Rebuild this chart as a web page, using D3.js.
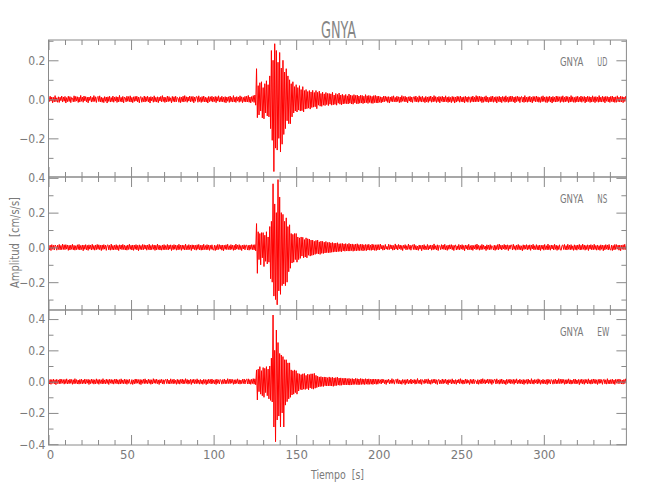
<!DOCTYPE html>
<html><head><meta charset="utf-8">
<script src="https://cdn.jsdelivr.net/npm/d3@7"></script>
<style>body{margin:0;background:#fff}svg{display:block}text{white-space:pre}</style>
</head><body><svg id="c" width="650" height="500"></svg>
<script>
const chartTitle = "GNYA";
const station = "GNYA";
const components = ["UD", "NS", "EW"];
const xTitle = "Tiempo  [s]";
const yTitle = "Amplitud  [cm/s/s]";
const xDomain = [0, 350];
const xTickValues = [0, 50, 100, 150, 200, 250, 300];
const yDomains = [[-0.398, 0.304], [-0.36, 0.405], [-0.405, 0.458]];
const yTickValues = [-0.4, -0.2, 0.0, 0.2, 0.4];
const sampleStart = 0, sampleStep = 0.5; // seconds

// UD component, t = 0..350 s every 0.5 s
const ud = [
.014,-.011,.016,-.009,.012,-.018,.010,-.013,.019,-.012,.008,-.015,.013,-.016,.011,-.007,.017,-.014,.012,-.010,
.015,-.019,.009,-.012,.016,-.011,.014,-.017,.010,.006,-.013,.018,-.012,.015,-.009,.013,-.016,.011,-.014,.020,
-.010,.012,-.015,.017,-.008,.014,-.013,.011,-.018,.012,-.006,.016,-.014,.010,-.012,.019,-.011,.013,-.016,.009,
.015,-.012,.018,-.013,.011,-.015,.008,-.017,.014,-.010,.012,-.019,.013,-.011,.016,-.014,.009,-.012,.017,-.015,
.011,-.009,.014,-.016,.012,-.013,.020,-.011,.010,-.014,.015,-.018,.012,.007,-.013,.016,-.010,.014,-.012,.018,
-.014,.010,-.017,.013,-.011,.015,-.009,.016,-.013,.012,-.018,.011,.014,-.015,.009,-.012,.017,-.014,.013,-.010,
.016,-.013,.011,-.019,.014,-.008,.012,-.015,.018,-.012,.010,-.014,.013,-.017,.011,-.009,.015,-.013,.019,-.011,
.012,-.016,.010,-.013,.017,-.012,.014,-.010,.008,-.018,.015,-.011,.013,-.014,.016,-.012,.010,.005,-.015,.013,
-.017,.011,-.012,.016,-.014,.019,-.010,.013,-.015,.012,-.009,.017,-.013,.014,-.011,.015,-.018,.012,-.010,.014,
.013,-.015,.018,-.011,.010,-.016,.014,-.012,.017,-.013,.011,-.014,.009,-.019,.015,-.012,.013,-.010,.016,-.014,
.012,-.011,.015,-.017,.013,-.009,.018,-.014,.010,-.012,.016,-.013,.011,-.015,.014,-.018,.012,-.010,.013,-.016,
.017,-.012,.010,-.014,.019,-.013,.011,-.016,.014,-.009,.012,-.015,.018,-.011,.013,-.017,.010,-.012,.015,-.014,
.016,-.013,.020,-.015,.012,-.018,.014,-.011,.019,-.016,
.022,
-.030,.157,-.094,.070,-.080,.085,-.060,.090,-.095,.060,-.100,.080,-.070,.095,-.085,.075,-.090,.120,-.150,.250,
-.210,.200,-.370,.285,-.250,.250,-.260,.190,-.200,.240,-.270,.160,-.230,.200,-.180,.140,-.150,.157,-.110,.120,
-.125,.100,-.125,.080,-.090,.090,-.070,.065,-.060,
.075,-.065,.060,-.055,.070,-.060,.050,-.058,.065,-.065,.045,-.050,.050,-.048,.040,-.045,.045,-.050,.038,-.042,
.046,-.040,.035,-.038,.045,-.048,.036,-.030,.042,-.035,.030,-.036,.037,-.030,.028,-.032,.035,-.027,.030,-.032,
.030,-.025,.028,-.030,.036,-.028,.022,-.026,.030,-.030,.025,-.020,.032,-.025,.022,-.028,.026,-.024,.020,-.022,
.025,-.022,.018,-.024,.027,-.020,.022,-.024,.019,-.025,.024,-.018,.020,-.022,.022,-.023,.017,-.020,.021,-.019,
.020,-.022,.016,-.019,.024,-.017,.018,-.021,.020,-.016,.018,-.020,.015,-.021,.019,-.017,.020,-.018,.016,-.019,
.017,
-.015,.013,-.018,.011,-.014,.017,-.012,.016,-.010,.013,-.016,.014,-.019,.012,-.011,.015,-.013,.018,-.012,.010,
-.014,.016,-.011,.013,-.017,.012,-.015,.019,-.010,.014,-.012,.016,-.013,.011,-.018,.013,-.009,.015,-.014,.012,
-.016,.011,.014,-.012,.017,-.013,.010,-.015,.018,-.011,.013,-.014,.016,-.012,.009,-.017,.015,-.013,.012,-.016,
.014,-.010,.017,-.015,.012,-.013,.019,-.011,.014,-.016,.011,-.012,.015,-.018,.013,-.010,.016,-.014,.012,-.013,
.018,-.012,.011,-.016,.014,-.013,.010,-.017,.015,-.011,.013,-.019,.012,-.014,.016,-.010,.014,-.015,.017,-.012,
.011,-.014,.013,-.018,.016,-.011,.012,-.015,.014,.008,-.016,.013,-.012,.017,-.014,.011,-.013,.019,-.012,.015,
-.013,.016,-.010,.014,-.017,.012,-.015,.013,-.011,.018,-.014,.012,-.016,.010,-.013,.015,-.012,.017,-.015,.011,
-.012,.014,-.019,.013,-.011,.016,-.014,.012,-.017,.015,-.010,.013,-.015,.018,-.012,.011,-.016,.014,-.013,.017,
-.011,.015,-.013,.012,-.018,.014,-.012,.016,-.010,.013,-.017,.011,.015,-.014,.012,-.016,.019,-.013,.011,-.015,
.013,-.012,.016,-.014,.011,-.018,.015,-.010,.014,-.013,.017,-.012,.013,-.015,.010,-.016,.014,-.012,.018,-.011,
.012,-.015,.014,-.017,.013,-.011,.016,-.014,.012,-.019,.015,-.012,.011,-.014,.017,-.013,.015,-.010,.013,-.016,
.014,-.012,.018,-.015,.011,-.013,.016,-.011,.014,-.017,.012,-.014,.019,-.012,.013,-.015,.010,-.016,.014,-.013,
.016,-.014,.011,-.012,.017,-.015,.013,-.010,.015,-.018,.012,-.013,.016,-.011,.014,-.016,.012,-.014,.018,-.012,
.013,-.017,.014,-.011,.012,-.015,.019,-.013,.011,-.014,.016,-.012,.013,-.018,.015,-.010,.014,-.013,.012,-.016,
.015,-.011,.017,-.014,.012,-.016,.013,-.015,.018,-.012,.011,-.014,.016,-.013,.014,-.017,.012,-.011,.015,-.013
];

// NS component, t = 0..350 s every 0.5 s
const ns = [
.011,-.014,.013,-.018,.016,-.011,.012,-.015,.014,.008,-.016,.013,-.012,.017,-.014,.011,-.013,.019,-.012,.015,
-.013,.016,-.010,.014,-.017,.012,-.015,.013,-.011,.018,-.014,.012,-.016,.010,-.013,.015,-.012,.017,-.015,.011,
-.012,.014,-.019,.013,-.011,.016,-.014,.012,-.017,.015,-.010,.013,-.015,.018,-.012,.011,-.016,.014,-.013,.017,
-.011,.015,-.013,.012,-.018,.014,-.012,.016,-.010,.013,-.017,.011,.015,-.014,.012,-.016,.019,-.013,.011,-.015,
.013,-.012,.016,-.014,.011,-.018,.015,-.010,.014,-.013,.017,-.012,.013,-.015,.010,-.016,.014,-.012,.018,-.011,
.012,-.015,.014,-.017,.013,-.011,.016,-.014,.012,-.019,.015,-.012,.011,-.014,.017,-.013,.015,-.010,.013,-.016,
.014,-.012,.018,-.015,.011,-.013,.016,-.011,.014,-.017,.012,-.014,.019,-.012,.013,-.015,.010,-.016,.014,-.013,
.016,-.014,.011,-.012,.017,-.015,.013,-.010,.015,-.018,.012,-.013,.016,-.011,.014,-.016,.012,-.014,.018,-.012,
.013,-.017,.014,-.011,.012,-.015,.019,-.013,.011,-.014,.016,-.012,.013,-.018,.015,-.010,.014,-.013,.012,-.016,
.015,-.011,.017,-.014,.012,-.016,.013,-.015,.018,-.012,.011,-.014,.016,-.013,.014,-.017,.012,-.011,.015,-.013,
-.015,.013,-.018,.011,-.014,.017,-.012,.016,-.010,.013,-.016,.014,-.019,.012,-.011,.015,-.013,.018,-.012,.010,
-.014,.016,-.011,.013,-.017,.012,-.015,.019,-.010,.014,-.012,.016,-.013,.011,-.018,.013,-.009,.015,-.014,.012,
.013,-.015,.012,-.016,.014,-.011,.016,-.013,.015,-.014,
.016,
-.020,.137,-.149,.090,-.070,.080,-.100,.085,-.060,.085,-.110,.070,-.080,.090,-.095,.060,-.085,.120,-.180,.150,
-.200,.366,-.280,.250,-.300,.200,-.330,.390,-.250,.290,-.270,.200,-.220,.190,-.210,.150,-.220,.170,-.200,.120,
-.140,.130,-.120,.080,-.090,.075,-.085,.080,-.070,
.080,-.085,.060,-.070,.055,-.063,.060,-.050,.058,-.060,.045,-.055,.055,-.060,.050,-.045,.048,-.050,.042,-.046,
.042,-.044,.035,-.040,.040,-.036,.042,-.038,.032,-.040,.036,-.034,.035,-.035,.030,-.032,.034,-.030,.028,-.031,
.030,-.030,.026,-.028,.028,-.027,.024,-.025,.025,-.026,.027,-.024,.021,-.023,.022,-.025,.023,-.020,.020,-.022,
.022,-.020,.018,-.021,.023,-.021,.019,-.018,.020,-.022,.017,-.019,.019,-.020,.021,-.018,.016,-.019,.018,-.017,
.018,-.020,.015,-.017,.017,-.019,.016,-.015,.018,-.016,.014,-.017,.019,-.015,.016,-.017,.015,-.018,.016,-.014,
.016,
-.015,.019,-.009,.012,-.016,.011,-.014,.017,-.010,.006,-.013,.018,-.012,.015,-.009,.013,-.016,.011,-.014,.020,
-.010,.012,-.015,.017,-.008,.014,-.013,.011,-.018,.012,-.006,.016,-.014,.010,-.012,.019,-.011,.013,-.016,.009,
.015,-.012,.018,-.013,.011,-.015,.008,-.017,.014,-.010,.012,-.019,.013,-.011,.016,-.014,.009,-.012,.017,-.015,
.011,-.009,.014,-.016,.012,-.013,.020,-.011,.010,-.014,.015,-.018,.012,.007,-.013,.016,-.010,.014,-.012,.018,
-.014,.010,-.017,.013,-.011,.015,-.009,.016,-.013,.012,-.018,.011,.014,-.015,.009,-.012,.017,-.014,.013,-.010,
.016,-.013,.011,-.019,.014,-.008,.012,-.015,.018,-.012,.010,-.014,.013,-.017,.011,-.009,.015,-.013,.019,-.011,
.012,-.016,.010,-.013,.017,-.012,.014,-.010,.008,-.018,.015,-.011,.013,-.014,.016,-.012,.010,.005,-.015,.013,
-.017,.011,-.012,.016,-.014,.019,-.010,.013,-.015,.012,-.009,.017,-.013,.014,-.011,.015,-.018,.012,-.010,.014,
.013,-.015,.018,-.011,.010,-.016,.014,-.012,.017,-.013,.011,-.014,.009,-.019,.015,-.012,.013,-.010,.016,-.014,
.012,-.011,.015,-.017,.013,-.009,.018,-.014,.010,-.012,.016,-.013,.011,-.015,.014,-.018,.012,-.010,.013,-.016,
.017,-.012,.010,-.014,.019,-.013,.011,-.016,.014,-.009,.012,-.015,.018,-.011,.013,-.017,.010,-.012,.015,-.014,
-.016,.011,.014,-.012,.017,-.013,.010,-.015,.018,-.011,.013,-.014,.016,-.012,.009,-.017,.015,-.013,.012,-.016,
.014,-.010,.017,-.015,.012,-.013,.019,-.011,.014,-.016,.011,-.012,.015,-.018,.013,-.010,.016,-.014,.012,-.013,
.018,-.012,.011,-.016,.014,-.013,.010,-.017,.015,-.011,.013,-.019,.012,-.014,.016,-.010,.014,-.015,.017,-.012,
-.015,.013,-.018,.011,-.014,.017,-.012,.016,-.010,.013,-.016,.014,-.019,.012,-.011,.015,-.013,.018,-.012,.010
];

// EW component, t = 0..350 s every 0.5 s
const ew = [
.012,-.015,.014,-.017,.013,-.011,.016,-.014,.012,-.019,.015,-.012,.011,-.014,.017,-.013,.015,-.010,.013,-.016,
.014,-.012,.018,-.015,.011,-.013,.016,-.011,.014,-.017,.012,-.014,.019,-.012,.013,-.015,.010,-.016,.014,-.013,
.016,-.014,.011,-.012,.017,-.015,.013,-.010,.015,-.018,.012,-.013,.016,-.011,.014,-.016,.012,-.014,.018,-.012,
.013,-.017,.014,-.011,.012,-.015,.019,-.013,.011,-.014,.016,-.012,.013,-.018,.015,-.010,.014,-.013,.012,-.016,
.015,-.011,.017,-.014,.012,-.016,.013,-.015,.018,-.012,.011,-.014,.016,-.013,.014,-.017,.012,-.011,.015,-.013,
-.015,.013,-.018,.011,-.014,.017,-.012,.016,-.010,.013,-.016,.014,-.019,.012,-.011,.015,-.013,.018,-.012,.010,
-.014,.016,-.011,.013,-.017,.012,-.015,.019,-.010,.014,-.012,.016,-.013,.011,-.018,.013,-.009,.015,-.014,.012,
-.016,.011,.014,-.012,.017,-.013,.010,-.015,.018,-.011,.013,-.014,.016,-.012,.009,-.017,.015,-.013,.012,-.016,
.014,-.010,.017,-.015,.012,-.013,.019,-.011,.014,-.016,.011,-.012,.015,-.018,.013,-.010,.016,-.014,.012,-.013,
.018,-.012,.011,-.016,.014,-.013,.010,-.017,.015,-.011,.013,-.019,.012,-.014,.016,-.010,.014,-.015,.017,-.012,
.011,-.014,.013,-.018,.016,-.011,.012,-.015,.014,.008,-.016,.013,-.012,.017,-.014,.011,-.013,.019,-.012,.015,
-.013,.016,-.010,.014,-.017,.012,-.015,.013,-.011,.018,-.014,.012,-.016,.010,-.013,.015,-.012,.017,-.015,.011,
.016,-.014,.018,-.015,.013,-.017,.015,-.012,.019,-.016,
.018,
-.020,.075,-.117,.080,-.064,.096,-.080,.070,-.090,.090,-.100,.085,-.070,.096,-.090,.080,-.110,.100,-.120,.150,
-.130,.426,-.290,.200,-.384,.330,-.245,.250,-.220,.180,-.290,.170,-.200,.160,-.290,.140,-.150,.140,-.128,.120,
-.110,.120,-.100,.075,-.085,.070,-.080,.075,-.070,
.070,-.080,.053,-.060,.050,-.050,.045,-.053,.050,-.048,.052,-.050,.040,-.045,.048,-.052,.045,-.040,.050,-.045,
.050,-.048,.053,-.042,.040,-.038,.035,-.033,.030,-.032,.032,-.030,.028,-.031,.030,-.026,.029,-.028,.025,-.027,
.030,-.027,.026,-.028,.028,-.030,.024,-.026,.026,-.025,.028,-.022,.023,-.024,.024,-.023,.021,-.020,.022,-.021,
.022,-.020,.019,-.021,.021,-.022,.018,-.020,.020,-.019,.017,-.018,.021,-.018,.019,-.020,.017,-.019,.020,-.018,
.018,-.017,.016,-.019,.019,-.016,.017,-.018,.018,-.017,.015,-.016,.016,-.018,.017,-.015,.016,-.017,.015,-.016,
.016,
-.010,.012,-.015,.017,-.008,.014,-.013,.011,-.018,.012,-.006,.016,-.014,.010,-.012,.019,-.011,.013,-.016,.009,
.015,-.012,.018,-.013,.011,-.015,.008,-.017,.014,-.010,.012,-.019,.013,-.011,.016,-.014,.009,-.012,.017,-.015,
.011,-.009,.014,-.016,.012,-.013,.020,-.011,.010,-.014,.015,-.018,.012,.007,-.013,.016,-.010,.014,-.012,.018,
-.014,.010,-.017,.013,-.011,.015,-.009,.016,-.013,.012,-.018,.011,.014,-.015,.009,-.012,.017,-.014,.013,-.010,
.016,-.013,.011,-.019,.014,-.008,.012,-.015,.018,-.012,.010,-.014,.013,-.017,.011,-.009,.015,-.013,.019,-.011,
.012,-.016,.010,-.013,.017,-.012,.014,-.010,.008,-.018,.015,-.011,.013,-.014,.016,-.012,.010,.005,-.015,.013,
-.017,.011,-.012,.016,-.014,.019,-.010,.013,-.015,.012,-.009,.017,-.013,.014,-.011,.015,-.018,.012,-.010,.014,
.013,-.015,.018,-.011,.010,-.016,.014,-.012,.017,-.013,.011,-.014,.009,-.019,.015,-.012,.013,-.010,.016,-.014,
.012,-.011,.015,-.017,.013,-.009,.018,-.014,.010,-.012,.016,-.013,.011,-.015,.014,-.018,.012,-.010,.013,-.016,
.017,-.012,.010,-.014,.019,-.013,.011,-.016,.014,-.009,.012,-.015,.018,-.011,.013,-.017,.010,-.012,.015,-.014,
.011,-.014,.013,-.018,.016,-.011,.012,-.015,.014,.008,-.016,.013,-.012,.017,-.014,.011,-.013,.019,-.012,.015,
-.013,.016,-.010,.014,-.017,.012,-.015,.013,-.011,.018,-.014,.012,-.016,.010,-.013,.015,-.012,.017,-.015,.011,
-.012,.014,-.019,.013,-.011,.016,-.014,.012,-.017,.015,-.010,.013,-.015,.018,-.012,.011,-.016,.014,-.013,.017,
-.011,.015,-.013,.012,-.018,.014,-.012,.016,-.010,.013,-.017,.011,.015,-.014,.012,-.016,.019,-.013,.011,-.015,
.013,-.012,.016,-.014,.011,-.018,.015,-.010,.014,-.013,.017,-.012,.013,-.015,.010,-.016,.014,-.012,.018,-.011
];

const series = [ud, ns, ew];

// ---- layout ----
const L = 48.5, R = 626.4;
const panels = [[40, 177], [177, 310], [310, 445]];
const axisColor = "#8a8a8a", textColor = "#7a7a7a", traceColor = "#ff0000";
const font = "'Liberation Sans Narrow','DejaVu Sans Condensed','Liberation Sans',sans-serif";

const svg = d3.select("#c");
const x = d3.scaleLinear().domain(xDomain).range([L, R]);
const xMinor = d3.range(xDomain[0], xDomain[1], 10).filter(v => v % 50 !== 0);

function styleAxis(g) {
  g.select(".domain").remove();
  g.selectAll(".tick line").attr("stroke", axisColor).attr("stroke-width", 1);
  g.selectAll(".tick text").attr("fill", textColor).attr("font-family", font);
}

series.forEach((vals, i) => {
  const [top, bot] = panels[i];
  const y = d3.scaleLinear().domain(yDomains[i]).range([bot, top]);
  const yTicks = yTickValues.filter(v => v >= yDomains[i][0] - 1e-9 && v <= yDomains[i][1] + 1e-9);
  const yMinorTicks = d3.range(-0.5, 0.55, 0.1).map(v => Math.round(v * 10) / 10)
    .filter(v => Math.abs(Math.round(v * 10)) % 2 === 1 && v > yDomains[i][0] && v < yDomains[i][1]);

  const cid = "clip" + i;
  svg.append("clipPath").attr("id", cid).append("rect")
    .attr("x", L).attr("y", top).attr("width", R - L).attr("height", bot - top);

  const line = d3.line().x((d, j) => x(sampleStart + j * sampleStep)).y(d => y(d));
  svg.append("path").attr("clip-path", `url(#${cid})`)
    .attr("d", line(vals)).attr("fill", "none")
    .attr("stroke", traceColor).attr("stroke-width", 1);

  svg.append("rect").attr("x", L).attr("y", top).attr("width", R - L).attr("height", bot - top)
    .attr("fill", "none").attr("stroke", axisColor).attr("stroke-width", 1);

  svg.append("g").attr("transform", `translate(${L},0)`)
    .call(d3.axisLeft(y).tickValues(yTicks).tickSizeInner(-10).tickSizeOuter(0).tickPadding(3).tickFormat(d3.format(".1f")))
    .call(styleAxis).call(g => g.selectAll(".tick text").attr("font-size", 12));
  svg.append("g").attr("transform", `translate(${L},0)`)
    .call(d3.axisLeft(y).tickValues(yMinorTicks).tickSizeInner(-5).tickSizeOuter(0).tickFormat(""))
    .call(styleAxis);
  svg.append("g").attr("transform", `translate(${R},0)`)
    .call(d3.axisRight(y).tickValues(yTicks).tickSizeInner(-10).tickSizeOuter(0).tickFormat(""))
    .call(styleAxis);
  svg.append("g").attr("transform", `translate(${R},0)`)
    .call(d3.axisRight(y).tickValues(yMinorTicks).tickSizeInner(-5).tickSizeOuter(0).tickFormat(""))
    .call(styleAxis);

  const isLast = i === series.length - 1;
  svg.append("g").attr("transform", `translate(0,${bot})`)
    .call(d3.axisBottom(x).tickValues(xTickValues).tickSizeInner(-10).tickSizeOuter(0).tickPadding(5)
      .tickFormat(isLast ? d3.format("d") : ""))
    .call(styleAxis).call(g => g.selectAll(".tick text").attr("font-size", 13)
      .attr("dx", d => d === 0 ? 1.5 : (d < 100 ? -4 : 0)));
  svg.append("g").attr("transform", `translate(0,${bot})`)
    .call(d3.axisBottom(x).tickValues(xMinor).tickSizeInner(-5).tickSizeOuter(0).tickFormat(""))
    .call(styleAxis);
  svg.append("g").attr("transform", `translate(0,${top})`)
    .call(d3.axisTop(x).tickValues(xTickValues).tickSizeInner(-10).tickSizeOuter(0).tickFormat(""))
    .call(styleAxis);
  svg.append("g").attr("transform", `translate(0,${top})`)
    .call(d3.axisTop(x).tickValues(xMinor).tickSizeInner(-5).tickSizeOuter(0).tickFormat(""))
    .call(styleAxis);

  svg.append("text").attr("x", 560).attr("y", top + 25.5)
    .attr("font-family", font).attr("font-size", 13).attr("fill", textColor)
    .attr("textLength", 23.3).attr("lengthAdjust", "spacingAndGlyphs").text(station);
  svg.append("text").attr("x", 597.3).attr("y", top + 25.5)
    .attr("font-family", font).attr("font-size", 13).attr("fill", textColor)
    .attr("textLength", components[i] === "EW" ? 12 : 10).attr("lengthAdjust", "spacingAndGlyphs")
    .text(components[i]);
});

svg.append("text").attr("x", 338.5).attr("y", 37.5).attr("text-anchor", "middle")
  .attr("font-family", font).attr("font-size", 23).attr("fill", "#858585")
  .attr("textLength", 35).attr("lengthAdjust", "spacingAndGlyphs").text(chartTitle);

svg.append("text").attr("x", 337.5).attr("y", 479).attr("text-anchor", "middle")
  .attr("font-family", font).attr("font-size", 13).attr("fill", textColor)
  .attr("textLength", 53).attr("lengthAdjust", "spacingAndGlyphs").text(xTitle);
svg.append("text").attr("transform", "translate(18.5,242.5) rotate(-90)").attr("text-anchor", "middle")
  .attr("font-family", font).attr("font-size", 13).attr("fill", textColor)
  .attr("textLength", 91).attr("lengthAdjust", "spacingAndGlyphs").text(yTitle);
</script>
</body></html>
